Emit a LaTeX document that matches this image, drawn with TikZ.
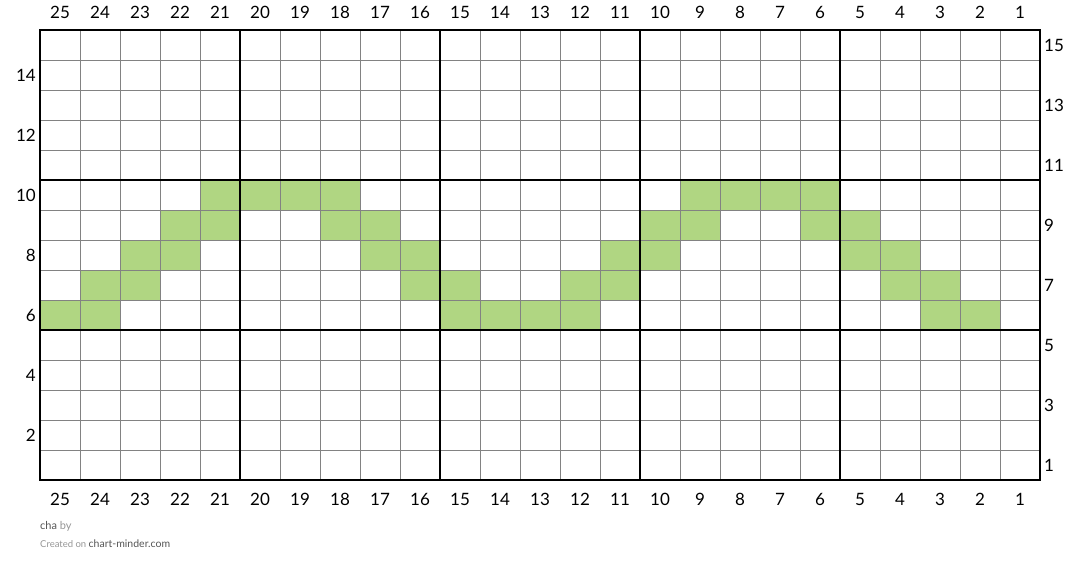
\documentclass[tikz,border=0pt]{standalone}
\usepackage{fontspec}
\setmainfont{Lato}
\usepackage{xcolor}
\definecolor{stitchgreen}{RGB}{176,214,130}
\definecolor{gridgray}{RGB}{130,130,130}
\definecolor{footdark}{RGB}{85,85,85}
\definecolor{footlight}{RGB}{150,150,150}

\begin{document}
\begin{tikzpicture}[x=1pt, y=-1pt,
  cell/.style={fill=stitchgreen},
  minor/.style={draw=gridgray, line width=0.9pt},
  major/.style={draw=black, line width=1.8pt},
  border/.style={draw=black, line width=2.8pt},
  numlab/.style={font=\fontsize{17}{19}\selectfont, inner sep=0pt},
  foot/.style={anchor=base west, inner sep=0pt},
]
\useasboundingbox[fill=white] (0,0) rectangle (1080,573);

% coloured stitches (column/row)
\foreach \c/\r in {21/10,20/10,19/10,18/10,9/10,8/10,7/10,6/10,
                   22/9,21/9,18/9,17/9,10/9,9/9,6/9,5/9,
                   23/8,22/8,17/8,16/8,11/8,10/8,5/8,4/8,
                   24/7,23/7,16/7,15/7,12/7,11/7,4/7,3/7,
                   25/6,24/6,15/6,14/6,13/6,12/6,3/6,2/6}
  \fill[cell] ({40+(25-\c)*40},{30+(15-\r)*30}) rectangle ++(40,30);

% grid
\foreach \i in {1,...,24}
  \draw[minor] ({40+40*\i},30) -- ({40+40*\i},480);
\foreach \j in {1,...,14}
  \draw[minor] (40,{30+30*\j}) -- (1040,{30+30*\j});
\foreach \i in {5,10,15,20}
  \draw[major] ({40+40*\i},30) -- ({40+40*\i},480);
\foreach \j in {5,10}
  \draw[major] (40,{30+30*\j}) -- (1040,{30+30*\j});
\draw[border] (40,30) rectangle (1040,480);

% column numbers
\foreach \c in {1,...,25} {
  \node[numlab] (top\c) at ({40+(25-\c)*40+20},12) {\c};
  \node[numlab] (bot\c) at ({40+(25-\c)*40+20},499) {\c};
}
% row numbers
\foreach \r in {2,4,...,14}
  \node[numlab, anchor=east] (left\r) at (36,{30+(15-\r)*30+15}) {\r};
\foreach \r in {1,3,...,15}
  \node[numlab, anchor=west] (right\r) at (1044,{30+(15-\r)*30+15}) {\r};

% footer
\node[foot] (title) at (40,529) {\fontsize{11}{13}\selectfont\color{footdark}cha \color{footlight}by};
\node[foot] (credit) at (40,547) {\fontsize{9.5}{11}\selectfont\color{footlight}Created on \fontsize{10.5}{12}\selectfont\color{footdark}chart-minder.com};
\end{tikzpicture}
\end{document}
